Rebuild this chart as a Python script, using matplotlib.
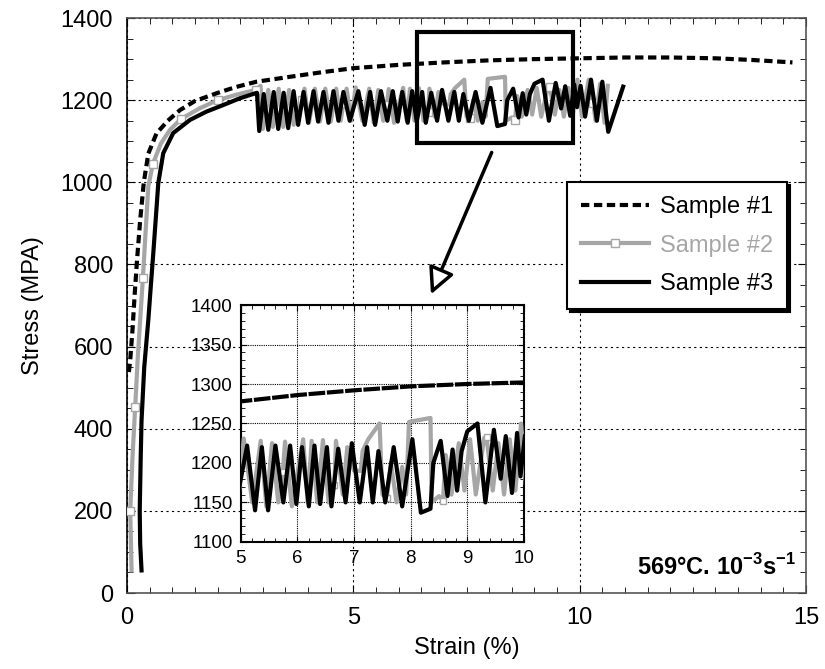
import matplotlib
matplotlib.use("Agg")
import matplotlib.pyplot as plt
from matplotlib.lines import Line2D
from matplotlib.patches import Rectangle, FancyArrowPatch
from matplotlib.ticker import MultipleLocator

plt.rcParams['font.family'] = ['Liberation Sans', 'DejaVu Sans']
plt.rcParams['mathtext.fontset'] = 'custom'
plt.rcParams['mathtext.rm'] = 'Liberation Sans'
plt.rcParams['mathtext.bf'] = 'Liberation Sans:bold'

# Sample #1 (dashed black)
s1_strain = [0.04, 0.07, 0.12, 0.17, 0.22, 0.29, 0.37, 0.47, 0.65, 0.90, 1.17, 1.50, 1.98,
             2.40, 2.86, 3.60, 4.30, 5.00, 6.00, 7.00, 8.00, 9.00, 10.00, 11.00, 12.00,
             13.00, 13.80, 14.70]
s1_stress = [538, 567, 640, 730, 810, 908, 1000, 1070, 1119, 1150, 1176, 1198, 1217,
             1232, 1245, 1257, 1268, 1278, 1286, 1292, 1297, 1300, 1302, 1304, 1304,
             1302, 1298, 1292]

# Sample #2 (grey with square markers)
s2_strain = [0.10, 0.07, 0.12, 0.18, 0.24, 0.29, 0.35, 0.41, 0.47, 0.57, 0.75, 0.95, 1.19,
             1.60, 2.00, 2.40, 2.84, 2.95, 3.00, 3.12, 3.22, 3.35, 3.45, 3.58, 3.68, 3.86,
             3.92, 4.02, 4.15, 4.26, 4.38, 4.50, 4.62, 4.72, 4.78, 4.85, 4.95, 5.05, 5.20,
             5.35, 5.45, 5.55, 5.66, 5.74, 5.78, 5.90, 6.10, 6.18, 6.25, 6.35, 6.45, 6.55,
             6.65, 6.68, 6.80, 6.88, 7.00, 7.12, 7.15, 7.25, 7.45, 7.50, 7.58, 7.65, 7.75,
             7.85, 7.92, 7.97, 8.35, 8.37, 8.50, 8.57, 8.62, 8.72, 8.85, 8.95, 9.05, 9.15,
             9.30, 9.34, 9.45, 9.55, 9.65, 9.75, 9.85, 9.95, 10.05, 10.20, 10.30, 10.35,
             10.45, 10.55, 10.62]
s2_stress = [55, 200, 330, 453, 580, 665, 767, 880, 990, 1045, 1095, 1128, 1154,
             1180, 1200, 1213, 1225, 1235, 1130, 1225, 1135, 1228, 1135, 1225, 1140, 1200,
             1228, 1145, 1228, 1148, 1228, 1148, 1228, 1150, 1193, 1228, 1150, 1231, 1150,
             1228, 1145, 1225, 1150, 1188, 1227, 1145, 1230, 1150, 1228, 1150, 1229, 1150,
             1172, 1228, 1160, 1220, 1190, 1190, 1215, 1230, 1250, 1160, 1156, 1200, 1150,
             1195, 1160, 1252, 1257, 1150, 1158, 1152, 1210, 1160, 1225, 1165, 1230, 1160,
             1232, 1233, 1165, 1225, 1160, 1230, 1165, 1250, 1160, 1250, 1193, 1150,
             1240, 1145, 1235]
s2_marker_strain = [0.07, 0.18, 0.35, 0.57, 1.19, 2.00, 2.84, 3.86, 4.78, 5.74, 6.65,
                    7.58, 8.57, 9.34, 10.30]

# Sample #3 (solid black)
s3_strain = [0.32, 0.29, 0.28, 0.30, 0.32, 0.38, 0.47, 0.52, 0.58, 0.64, 0.69, 0.80, 1.02,
             1.39, 1.75, 2.12, 2.50, 2.87, 2.92, 3.02, 3.12, 3.24, 3.34, 3.46, 3.56, 3.68,
             3.78, 3.90, 4.00, 4.12, 4.22, 4.34, 4.45, 4.56, 4.67, 4.78, 4.92, 5.11, 5.25,
             5.37, 5.48, 5.61, 5.75, 5.87, 5.98, 6.08, 6.20, 6.30, 6.40, 6.52, 6.60, 6.72,
             6.85, 6.96, 7.10, 7.23, 7.33, 7.43, 7.55, 7.70, 7.85, 8.03, 8.18, 8.35, 8.40,
             8.53, 8.65, 8.74, 8.82, 8.90, 9.00, 9.18, 9.32, 9.47, 9.59, 9.68, 9.79, 9.88,
             9.94, 10.02, 10.12, 10.25, 10.38, 10.50, 10.63, 10.96]
s3_stress = [55, 120, 200, 320, 420, 550, 665, 740, 828, 920, 998, 1071, 1120,
             1152, 1172, 1188, 1205, 1218, 1125, 1215, 1128, 1220, 1130, 1218, 1132, 1222,
             1140, 1220, 1145, 1222, 1148, 1220, 1145, 1222, 1150, 1220, 1150, 1222, 1140,
             1220, 1140, 1222, 1150, 1222, 1148, 1220, 1145, 1222, 1148, 1220, 1145, 1218,
             1150, 1225, 1150, 1220, 1150, 1215, 1150, 1220, 1145, 1230, 1137, 1142, 1200,
             1228, 1158, 1217, 1165, 1215, 1240, 1250, 1150, 1242, 1180, 1234, 1162, 1238,
             1183, 1235, 1160, 1250, 1150, 1245, 1123, 1233]

labels = ['Sample #1', 'Sample #2', 'Sample #3']
grey = '#a6a6a6'
s2_every = [s2_strain.index(m) for m in s2_marker_strain]

fig = plt.figure(figsize=(8.25, 6.69), dpi=100)
ax = fig.add_axes([0.154, 0.1136, 0.823, 0.8594])


def draw_curves(a, lw, ms, dash):
    a.plot(s2_strain, s2_stress, color=grey, lw=lw, marker='s', ms=ms,
           mfc='white', mec=grey, mew=1, markevery=s2_every, zorder=3)
    a.plot(s3_strain, s3_stress, color='black', lw=lw, zorder=4)
    a.plot(s1_strain, s1_stress, color='black', lw=lw, ls=dash, zorder=5)


draw_curves(ax, 3.0, 5.5, (0, (2.0, 1.1)))
ax.set_xlim(0, 15)
ax.set_ylim(0, 1400)
ax.xaxis.set_major_locator(MultipleLocator(5))
ax.xaxis.set_minor_locator(MultipleLocator(0.5))
ax.yaxis.set_major_locator(MultipleLocator(200))
ax.yaxis.set_minor_locator(MultipleLocator(50))
ax.tick_params(which='both', direction='in', top=True, right=True, labelsize=17, pad=10)
ax.tick_params(which='major', length=6)
ax.tick_params(which='minor', length=4)
ax.grid(True, which='major', color='black', lw=0.8, ls=(0, (2, 3)))
for sp in ax.spines.values():
    sp.set_color('#555555')
    sp.set_linewidth(1.2)
ax.spines['left'].set_color('black')
ax.set_xlabel('Strain (%)', fontsize=17, labelpad=6)
ax.set_ylabel('Stress (MPA)', fontsize=17, labelpad=12)

# zoom box and arrow
ax.add_patch(Rectangle((6.4, 1095), 3.45, 270, fill=False, ec='black', lw=3, zorder=8))
ax.add_patch(FancyArrowPatch((8.08, 1079), (6.69, 721),
                             arrowstyle='-|>,head_length=0.8,head_width=0.4',
                             mutation_scale=20, fc='white', ec='black', lw=2.5, zorder=8))

ax.text(0.985, 0.022, r'569°C. 10$^{\mathbf{-3}}$s$^{\mathbf{-1}}$', transform=ax.transAxes,
        ha='right', va='bottom', fontsize=17, fontweight='bold')

handles = [
    Line2D([], [], color='black', lw=3, ls=(0, (2.0, 1.1))),
    Line2D([], [], color=grey, lw=3, marker='s', ms=5.5, mfc='white', mec=grey),
    Line2D([], [], color='black', lw=3),
]
leg = ax.legend(handles, labels, loc='upper left', bbox_to_anchor=(0.687, 0.728),
                bbox_transform=fig.transFigure, borderaxespad=0, fontsize=17,
                handlelength=2.9, handletextpad=0.45, labelspacing=0.7, borderpad=0.6,
                fancybox=False, framealpha=1, edgecolor='black',
                shadow={'color': 'black', 'alpha': 1})
leg.get_frame().set_linewidth(1.5)
leg.get_texts()[1].set_color(grey)
leg.set_zorder(10)

# inset
axin = fig.add_axes([0.292, 0.190, 0.343, 0.354])
draw_curves(axin, 3.0, 4, (0, (4, 0.4)))
axin.set_xlim(5, 10)
axin.set_ylim(1100, 1400)
axin.xaxis.set_major_locator(MultipleLocator(1))
axin.xaxis.set_minor_locator(MultipleLocator(0.2))
axin.yaxis.set_major_locator(MultipleLocator(50))
axin.yaxis.set_minor_locator(MultipleLocator(10))
axin.tick_params(which='both', direction='in', top=True, right=True, labelsize=13.5, pad=6)
axin.tick_params(which='major', length=4)
axin.tick_params(which='minor', length=3)
axin.grid(True, which='major', color='black', lw=0.8, ls=(0, (1, 1)))
for sp in axin.spines.values():
    sp.set_color('black')
    sp.set_linewidth(1.5)

fig.savefig('out.png', dpi=100)
